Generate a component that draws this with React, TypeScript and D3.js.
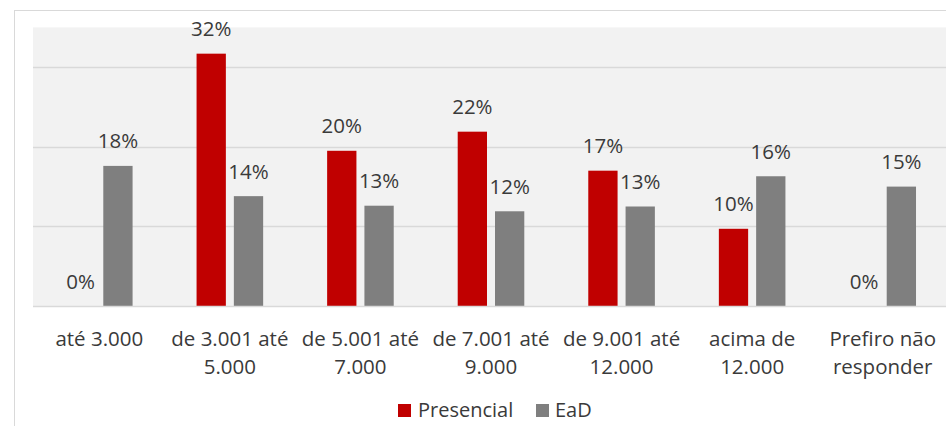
import React from "react";
import * as d3 from "d3";

const categories: string[][] = [
  ["até 3.000"],
  ["de 3.001 até", "5.000"],
  ["de 5.001 até", "7.000"],
  ["de 7.001 até", "9.000"],
  ["de 9.001 até", "12.000"],
  ["acima de", "12.000"],
  ["Prefiro não", "responder"],
];
const categoryKeys = ["c0", "c1", "c2", "c3", "c4", "c5", "c6"];
const seriesNames = ["Presencial", "EaD"];
const presencial = [0, 0.317, 0.195, 0.219, 0.17, 0.097, 0];
const ead = [0.176, 0.138, 0.126, 0.119, 0.125, 0.163, 0.15];
const gridTicks = [0.1, 0.2, 0.3];
const colors = ["#c00000", "#7f7f7f"];

const W = 946;
const H = 426;
const FONT = "'Open Sans', 'Noto Sans', sans-serif";
const TEXT = "#3a3a3a";

export default function App() {
  const left = 34;
  const right = 948;
  const baseY = 306;
  const topY = 27.4;

  const x0 = d3
    .scaleBand<string>()
    .domain(categoryKeys)
    .range([left, right])
    .paddingInner(0.49)
    .paddingOuter(0.245);
  const x1 = d3
    .scaleBand<string>()
    .domain(seriesNames)
    .range([0, x0.bandwidth()])
    .paddingInner(0.2145);
  const y = d3.scaleLinear().domain([0, 0.35]).range([baseY, topY]);
  const fmt = d3.format(".0%");
  const data = [presencial, ead];

  return (
    <svg
      width={W}
      height={H}
      style={{ position: "absolute", left: 0, top: 0, background: "#fff" }}
      fontFamily={FONT}
    >
      <rect x={14.5} y={10.5} width={W + 20} height={H + 20} fill="#fff" stroke="#d9d9d9" />
      <rect x={left - 1} y={topY} width={right - left + 2} height={baseY - topY} fill="#f2f2f2" />
      {gridTicks.map((t) => (
        <line
          key={t}
          x1={left - 1}
          x2={right + 1}
          y1={Math.round(y(t)) + 0.5}
          y2={Math.round(y(t)) + 0.5}
          stroke="#d9d9d9"
          strokeWidth={1.5}
        />
      ))}
      {categoryKeys.map((k, i) => (
        <g key={k}>
          {seriesNames.map((s, si) => {
            const v = data[si][i];
            const bx = (x0(k) as number) + (x1(s) as number);
            const bw = x1.bandwidth();
            return (
              <g key={s}>
                {v > 0 && (
                  <rect x={bx} y={y(v)} width={bw} height={baseY - y(v)} fill={colors[si]} />
                )}
                <text
                  x={bx + bw / 2}
                  y={y(v) - 17.5}
                  textAnchor="middle"
                  fontSize={20.5}
                  fill={TEXT}
                >
                  {fmt(v)}
                </text>
              </g>
            );
          })}
          <text
            x={(x0(k) as number) + x0.bandwidth() / 2}
            textAnchor="middle"
            fontSize={20.5}
            fill={TEXT}
          >
            {categories[i].map((line, li) => (
              <tspan key={li} x={(x0(k) as number) + x0.bandwidth() / 2} y={345.5 + li * 28.5}>
                {line}
              </tspan>
            ))}
          </text>
        </g>
      ))}
      <line x1={left - 1} x2={right + 1} y1={baseY + 0.5} y2={baseY + 0.5} stroke="#d9d9d9" strokeWidth={1.5} />
      {/* legend */}
      <g>
        <rect x={398} y={404} width={13} height={13} fill={colors[0]} />
        <text x={418} y={416.7} fontSize={20} fill={TEXT}>
          {seriesNames[0]}
        </text>
        <rect x={536} y={404} width={13} height={13} fill={colors[1]} />
        <text x={555} y={416.7} fontSize={20} fill={TEXT}>
          {seriesNames[1]}
        </text>
      </g>
    </svg>
  );
}
